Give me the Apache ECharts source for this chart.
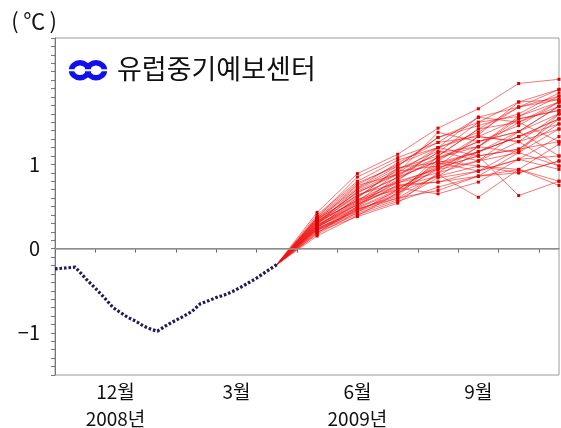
<!DOCTYPE html>
<html>
<head>
<meta charset="utf-8">
<script src="https://cdn.jsdelivr.net/npm/echarts@6/dist/echarts.min.js"></script>
<style>
  html, body { margin: 0; padding: 0; background: #fff; }
  #chart { width: 561px; height: 428px; }
</style>
</head>
<body>
<div id="chart"></div>
<script>
// x축은 2008년 11월 1일부터 지난 달 수 (0 = 11월 1일)
var monthTicks = [0, 1, 2, 3, 4, 5, 6, 7, 8, 9, 10, 11, 12];
var monthLabelPos = [1.5, 4.5, 7.5, 10.5];
var monthLabels = ['12월\n2008년', '3월', '6월\n2009년', '9월'];
var yLabelValues = [-1, 0, 1];

// 관측 (검은 점선)
var obsMonth = [0, 0.25, 0.5, 0.6, 0.8, 1.0, 1.2, 1.44, 1.6, 1.8, 2.0, 2.2, 2.4, 2.54,
  2.8, 3.0, 3.2, 3.4, 3.6, 3.8, 4.0, 4.2, 4.4, 4.6, 4.8, 5.0, 5.2, 5.5];
var obsValue = [-0.24, -0.23, -0.22, -0.27, -0.375, -0.47, -0.57, -0.70, -0.75, -0.815, -0.86, -0.92, -0.96, -0.98,
  -0.90, -0.85, -0.80, -0.745, -0.655, -0.62, -0.58, -0.55, -0.51, -0.46, -0.405, -0.35, -0.285, -0.19];

// 앙상블 예측 (월평균, 5월~11월 중순)
var fcStart = [5.5, -0.19];
var fcMonth = [6.5, 7.5, 8.5, 9.5, 10.5, 11.5, 12.5];
var members = [
  [0.43, 0.89, 1.12, 1.43, 1.66, 1.96, 2.01],
  [0.40, 0.80, 1.05, 1.20, 1.35, 1.74, 1.89],
  [0.38, 0.78, 0.98, 1.32, 1.50, 1.57, 1.81],
  [0.36, 0.72, 1.02, 1.26, 1.56, 1.68, 1.77],
  [0.35, 0.70, 0.95, 1.10, 1.42, 1.50, 1.74],
  [0.34, 0.66, 0.90, 1.38, 1.27, 1.39, 1.69],
  [0.33, 0.75, 0.88, 1.14, 1.21, 1.54, 1.64],
  [0.32, 0.62, 0.85, 1.04, 1.33, 1.27, 1.60],
  [0.31, 0.68, 0.92, 0.98, 1.15, 1.33, 1.54],
  [0.30, 0.58, 0.80, 1.20, 1.10, 1.18, 1.48],
  [0.30, 0.64, 0.78, 0.90, 1.04, 1.14, 1.42],
  [0.29, 0.60, 0.96, 1.02, 0.92, 1.06, 1.33],
  [0.28, 0.55, 0.82, 1.08, 1.21, 1.50, 1.27],
  [0.28, 0.52, 0.74, 0.86, 0.98, 0.94, 1.24],
  [0.27, 0.57, 0.70, 1.00, 1.15, 1.39, 1.10],
  [0.26, 0.50, 0.76, 0.79, 0.86, 0.90, 1.04],
  [0.26, 0.48, 0.68, 0.94, 1.04, 1.27, 0.98],
  [0.25, 0.53, 0.72, 0.65, 0.79, 1.06, 0.94],
  [0.24, 0.45, 0.66, 0.96, 1.10, 0.63, 0.80],
  [0.24, 0.44, 0.60, 0.88, 0.61, 0.94, 0.75],
  [0.23, 0.42, 0.58, 0.84, 0.92, 1.18, 1.54],
  [0.22, 0.40, 0.56, 0.73, 0.86, 1.14, 1.60],
  [0.21, 0.47, 0.62, 1.06, 1.27, 1.39, 1.69],
  [0.20, 0.38, 0.54, 0.90, 1.21, 1.57, 1.74],
  [0.19, 0.46, 0.64, 1.10, 1.42, 1.68, 1.81],
  [0.18, 0.50, 0.86, 1.14, 1.50, 1.74, 1.77],
  [0.17, 0.43, 0.70, 0.98, 1.33, 1.54, 1.64],
  [0.15, 0.39, 0.66, 0.86, 1.15, 1.33, 1.48],
  [0.33, 0.56, 0.90, 1.20, 1.56, 1.50, 1.69],
  [0.37, 0.85, 1.08, 1.26, 1.33, 1.27, 1.42],
  [0.35, 0.63, 0.84, 1.04, 0.98, 0.90, 1.04],
  [0.29, 0.71, 0.98, 1.32, 1.46, 1.60, 1.85],
  [0.27, 0.54, 0.78, 0.96, 1.10, 1.18, 1.27],
  [0.31, 0.58, 0.74, 0.79, 0.92, 1.06, 1.10],
  [0.25, 0.61, 0.94, 1.16, 1.04, 1.39, 1.60],
  [0.22, 0.47, 0.60, 0.69, 0.86, 0.94, 0.80],
  [0.32, 0.67, 0.88, 1.08, 1.27, 1.46, 1.74],
  [0.36, 0.76, 1.00, 1.20, 1.38, 1.68, 1.89],
  [0.26, 0.52, 0.80, 0.94, 1.21, 1.14, 0.98],
  [0.23, 0.49, 0.70, 1.02, 1.15, 1.33, 1.54]
];

var FONT = '"Noto Sans CJK KR", sans-serif';
var chart = echarts.init(document.getElementById('chart'));

var series = [];
// 관측 점선
series.push({
  name: '관측',
  type: 'line',
  data: obsMonth.map(function(m, i) { return [m, obsValue[i]]; }),
  symbol: 'none',
  lineStyle: { color: '#1c1c5a', width: 3.2, type: [2.6, 1.9], cap: 'butt' },
  z: 3,
  markLine: {
    silent: true,
    symbol: 'none',
    label: { show: false },
    lineStyle: { color: '#9a9a9a', width: 1.5, type: 'solid' },
    data: [{ yAxis: 0 }]
  }
});
// 앙상블 멤버
members.forEach(function(vals, k) {
  var d = [{ value: fcStart, symbol: 'none' }];
  vals.forEach(function(v, i) { d.push([fcMonth[i], v]); });
  series.push({
    name: 'member' + k,
    type: 'line',
    data: d,
    symbol: 'rect',
    symbolSize: 3,
    itemStyle: { color: '#dd0000' },
    lineStyle: { color: 'rgba(240,20,20,0.58)', width: 1 },
    z: 2
  });
});

chart.setOption({
  animation: false,
  grid: {
    left: 55, right: 2, top: 38, bottom: 53,
    outerBoundsMode: 'none',
    show: true, borderColor: '#9a9a9a', borderWidth: 1
  },
  xAxis: {
    type: 'value',
    min: 0, max: 12.5, interval: 0.5,
    splitLine: { show: false },
    axisLine: { lineStyle: { color: '#666' } },
    axisTick: { customValues: monthTicks, length: 4, lineStyle: { color: '#666' } },
    axisLabel: {
      customValues: monthLabelPos,
      margin: 3,
      color: '#111',
      fontFamily: FONT,
      fontSize: 19,
      lineHeight: 27,
      formatter: function(v) {
        var i = monthLabelPos.indexOf(v);
        return i >= 0 ? monthLabels[i] : '';
      }
    }
  },
  yAxis: {
    type: 'value',
    min: -1.5, max: 2.5, interval: 0.1,
    name: '(\u2009℃\u2009)',
    nameLocation: 'end',
    nameGap: 6,
    nameTextStyle: { color: '#111', fontFamily: FONT, fontSize: 22, align: 'right', padding: [0, -2, 0, 0] },
    splitLine: { show: false },
    axisLine: { lineStyle: { color: '#777' } },
    axisTick: { length: 4, lineStyle: { color: '#777' } },
    axisLabel: {
      customValues: yLabelValues,
      margin: 15,
      color: '#111',
      fontFamily: FONT,
      fontSize: 20,
      formatter: function(v) { return String(v).replace('-', '−'); }
    }
  },
  graphic: [{
    type: 'group',
    left: 68, top: 60,
    children: [
      { type: 'ellipse', shape: { cx: 11, cy: 11, rx: 8.5, ry: 7.5 },
        style: { fill: 'none', stroke: '#1010ee', lineWidth: 5.5 } },
      { type: 'ellipse', shape: { cx: 27, cy: 11, rx: 8.5, ry: 7.5 },
        style: { fill: 'none', stroke: '#1010ee', lineWidth: 5.5 } },
      { type: 'rect', shape: { x: -1, y: 10, width: 40, height: 2 },
        style: { fill: '#ffffff' } }
    ]
  }, {
    type: 'text',
    left: 117, top: 55,
    style: { text: '유럽중기예보센터', fill: '#111', font: '27px ' + FONT }
  }],
  series: series
});
</script>
</body>
</html>
